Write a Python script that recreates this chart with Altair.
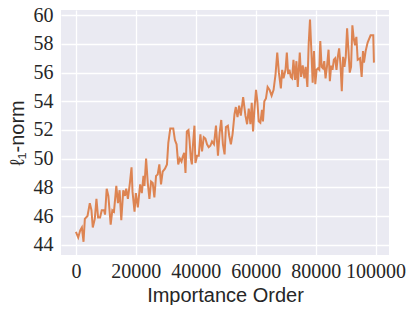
import altair as alt
import pandas as pd

order = [0, 770, 1440, 1990, 2540, 2980, 3870, 4640, 5190, 5630, 6300, 6850, 7400, 8060, 8620,
         9390, 9720, 10270, 10830, 11600, 12150, 12700, 13480, 14030, 14580, 15140, 15800, 16350,
         16790, 17350, 18010, 18560, 18890, 19560, 20000, 20660, 21430, 21990, 22540, 22870, 23420,
         23980, 24530, 25080, 25630, 26180, 26740, 27290, 27840, 28400, 28950, 29720, 30380, 30830,
         31490, 32480, 33040, 33590, 34140, 34690, 35240, 35580, 36130, 36570, 37010, 37560, 37900,
         38340, 38700, 39000, 39550, 39880, 40440, 40990, 41540, 42090, 42650, 43200, 43750, 44310,
         44860, 45410, 46070, 46740, 47400, 47950, 48500, 49050, 49610, 50050, 50710, 51150, 51710,
         52260, 52920, 53360, 53920, 54470, 55020, 55800, 56570, 57120, 57670, 58230, 58670, 59110,
         59550, 60100, 60550, 60990, 61540, 62090, 62420, 62870, 63420, 63970, 64630, 65300, 65960,
         66620, 67180, 67730, 68390, 68830, 69270, 69940, 70380, 70820, 71260, 71710, 72150, 72590,
         73140, 73580, 74030, 74700, 75130, 75680, 76230, 76670, 77230, 77670, 78110, 78550, 79000,
         79440, 79880, 80320, 80760, 81210, 81540, 81980, 82420, 82860, 83300, 83860, 84300, 84740,
         85180, 85620, 86070, 86510, 86950, 87390, 87830, 88270, 88720, 89160, 89600, 90040, 90490,
         90930, 91370, 91810, 92250, 92690, 93140, 93580, 94020, 94800, 95350, 95790, 96120, 96670,
         97340, 98330, 99220, 99440]

norm = [44.9, 44.5, 45.0, 45.2, 44.2, 45.8, 46.0, 46.9, 46.4, 45.2, 45.8, 47.2, 45.9, 45.9, 46.4,
        46.4, 46.1, 47.9, 47.4, 45.4, 46.4, 46.3, 48.1, 46.9, 47.8, 45.7, 47.8, 47.4,
        47.9, 47.2, 48.3, 49.4, 47.7, 46.3, 47.6, 46.6, 48.2, 47.6, 48.8, 48.1, 50.0,
        48.3, 47.2, 48.4, 48.3, 47.3, 48.8, 48.9, 49.6, 48.2, 49.1, 49.3, 49.6, 51.1,
        52.1, 52.1, 51.3, 51.0, 49.6, 50.0, 49.8, 50.1, 50.4, 49.0, 51.9, 52.0, 51.3,
        50.0, 49.6, 50.8, 52.3, 49.7, 50.2, 50.2, 51.7, 50.5, 51.5, 51.4, 51.0, 50.8,
        50.9, 51.2, 51.0, 52.3, 50.2, 51.8, 52.7, 51.0, 50.3, 52.2, 52.3, 51.6, 51.0,
        51.7, 53.1, 53.6, 52.9, 53.7, 53.0, 54.3, 53.0, 52.4, 53.5, 52.4, 53.9, 51.9,
        53.4, 54.8, 54.0, 52.6, 52.5, 53.4, 52.6, 54.0, 54.2, 55.0, 54.8, 54.4, 54.8,
        55.9, 57.4, 56.0, 54.9, 56.2, 55.6, 56.2, 57.4, 55.9, 56.2, 55.7, 55.6, 56.9,
        55.5, 56.8, 55.0, 57.4, 55.7, 56.5, 55.6, 56.4, 55.0, 58.0, 59.7, 57.6, 55.3,
        57.5, 55.2, 56.2, 56.3, 56.2, 58.2, 56.4, 56.3, 56.8, 55.6, 56.6, 57.6, 55.4,
        56.5, 56.2, 56.9, 57.0, 56.2, 57.1, 57.7, 56.6, 54.7, 57.1, 56.4, 57.1, 59.1,
        57.6, 56.0, 56.4, 59.3, 58.4, 57.9, 58.5, 56.9, 57.0, 55.7, 57.5, 56.7, 57.5,
        58.1, 58.6, 58.6, 56.7]

x_ticks = [0, 20000, 40000, 60000, 80000, 100000]
y_ticks = [44, 46, 48, 50, 52, 54, 56, 58, 60]

df = pd.DataFrame({"order": order, "norm": norm})

chart = alt.Chart(df).mark_line(color="#DD8452", strokeWidth=2, clip=True).encode(
    x=alt.X("order:Q",
            scale=alt.Scale(domain=[-4975, 104470], nice=False, zero=False),
            axis=alt.Axis(title="Importance Order", values=x_ticks, format="d",
                          labelFont="Liberation Serif", labelFontSize=20,
                          labelPadding=6, titlePadding=4, labelFlush=False)),
    y=alt.Y("norm:Q",
            scale=alt.Scale(domain=[43.28, 60.37], nice=False, zero=False),
            axis=alt.Axis(title="ℓ₁-norm", values=y_ticks, format="d",
                          labelFont="Liberation Serif", labelFontSize=20,
                          labelPadding=8, titlePadding=6)),
).properties(
    width=328, height=245,
    autosize=alt.AutoSizeParams(type="none"),
    padding={"left": 53, "top": 2, "right": 18, "bottom": 50},
).configure_view(
    fill="#EAEAF2", stroke=None
).configure_axis(
    grid=True, gridColor="white", gridWidth=1.3, gridOpacity=1,
    domain=False, ticks=False,
    labelColor="#262626", titleColor="#262626",
    titleFont="Liberation Sans", titleFontSize=20, titleFontWeight="normal",
)

chart.save("out.html", embed_options={"renderer": "svg", "actions": False})
